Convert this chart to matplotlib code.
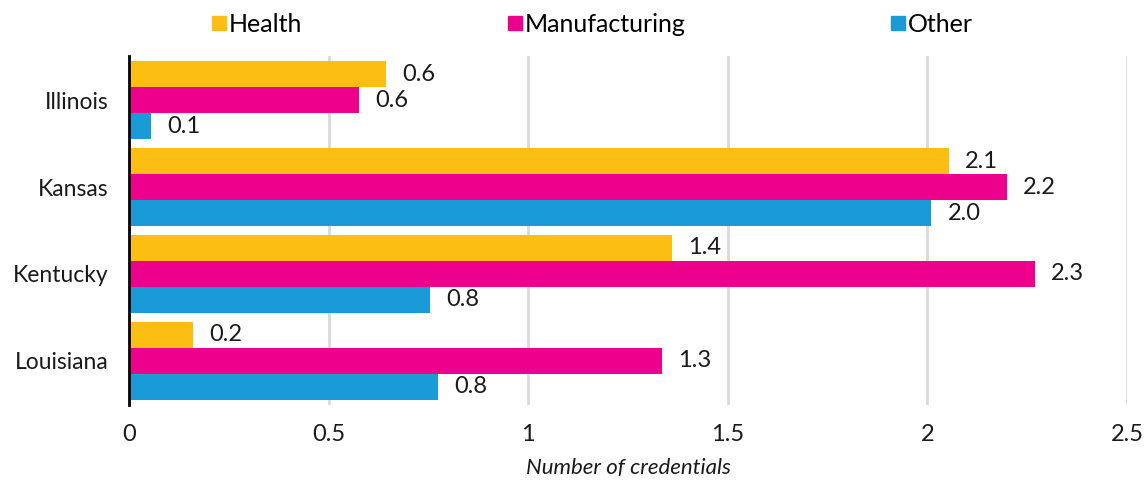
import matplotlib
matplotlib.use("Agg")
import matplotlib.pyplot as plt
import numpy as np
from matplotlib.lines import Line2D

states = ["Illinois", "Kansas", "Kentucky", "Louisiana"]
series_names = ["Health", "Manufacturing", "Other"]
health = [0.644, 2.053, 1.36, 0.16]
manufacturing = [0.576, 2.20, 2.27, 1.336]
other = [0.055, 2.01, 0.754, 0.774]
colors = ["#FDBE14", "#EC008C", "#1A9AD6"]
xticks = [0, 0.5, 1, 1.5, 2, 2.5]
xticklabels = ["0", "0.5", "1", "1.5", "2", "2.5"]

plt.rcParams['font.family'] = ['Lato', 'DejaVu Sans']

fig = plt.figure(figsize=(11.46, 4.82), dpi=100)
ax = fig.add_axes([129/1146, 1-405/482, (1127-129)/1146, (405-56)/482])

y = np.arange(len(states))
h = 0.3
data = [health, manufacturing, other]
for i, (vals, col) in enumerate(zip(data, colors)):
    pos = y + (i - 1) * h
    ax.barh(pos, vals, height=h, color=col, zorder=3)
    for p, v in zip(pos, vals):
        ax.annotate(f"{v:.1f}", (v, p), xytext=(16, 0), textcoords="offset pixels",
                    va="center", ha="left", fontsize=17, color="#1a1a1a")

ax.set_xlim(0, 2.5)
ax.set_ylim(3.51, -0.51)
ax.set_yticks(y)
ax.set_yticklabels(states, fontsize=16.5, color="#1a1a1a")
ax.set_xticks(xticks)
ax.set_xticklabels(xticklabels, fontsize=17, color="#1a1a1a")
ax.tick_params(axis="both", length=0)
ax.tick_params(axis="y", pad=15)
ax.tick_params(axis="x", pad=14)
ax.grid(axis="x", color="#d9d9d9", linewidth=2, zorder=0)
for s in ["top", "right", "bottom"]:
    ax.spines[s].set_visible(False)
ax.spines["left"].set_linewidth(2)
ax.spines["left"].set_color("black")
ax.spines["left"].set_zorder(5)
ax.set_xlabel("Number of credentials", fontsize=16, style="italic", labelpad=9, color="#1a1a1a")

handles = [Line2D([0], [0], marker="s", linestyle="none", markersize=10, color=c) for c in colors]
fig.legend(handles, series_names, loc="center", bbox_to_anchor=(592/1146, 1-24/482), ncol=3,
           frameon=False, fontsize=18, handletextpad=0.1, columnspacing=8.2, handlelength=0.6)

fig.savefig("out.png", dpi=100)
